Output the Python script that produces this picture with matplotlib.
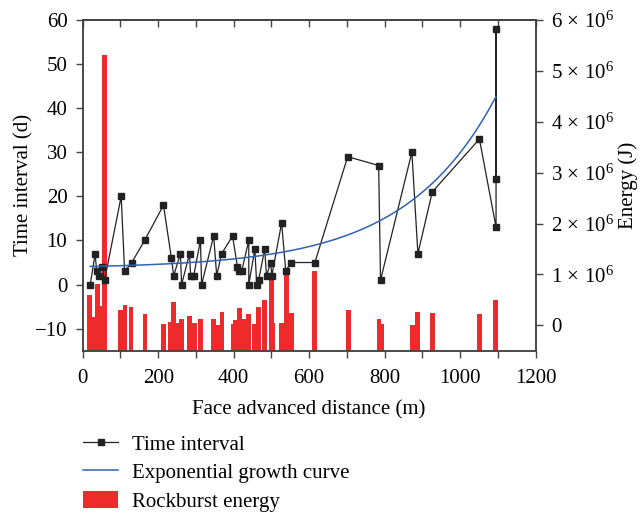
import matplotlib
matplotlib.use("Agg")
from matplotlib import pyplot as plt
from matplotlib.lines import Line2D
from matplotlib.patches import Patch
from matplotlib.ticker import MultipleLocator, FuncFormatter
import numpy as np

plt.rcParams['font.family'] = ['Liberation Serif', 'DejaVu Serif']
plt.rcParams['mathtext.fontset'] = 'custom'
plt.rcParams['mathtext.rm'] = 'Liberation Serif'
plt.rcParams['mathtext.it'] = 'Liberation Serif:italic'

# time interval between rockbursts (d) vs face advance (m)
dist = [20, 33, 37, 42, 51, 58, 102, 111, 130, 164, 214, 235, 241, 259, 262,
        283, 286, 294, 312, 315, 347, 355, 368, 397, 410, 414, 421, 440, 440,
        456, 461, 466, 482, 487, 498, 501, 527, 538, 551, 615, 702, 784, 789,
        872, 888, 926, 1051, 1095, 1095, 1095]
interval = [0, 7, 3, 2, 4, 1, 20, 3, 5, 10, 18, 6, 2, 7, 0,
            7, 2, 2, 10, 0, 11, 2, 7, 11, 4, 3, 3, 10, 0,
            8, 0, 1, 8, 2, 5, 2, 14, 3, 5, 5, 29, 27, 1,
            30, 7, 21, 33, 13, 58, 24]

# rockburst energy (x 1e6 J)
burst_x = [19, 30, 39, 49, 58, 101, 112, 128, 165, 213, 232, 241, 250, 261,
           283, 295, 313, 347, 357, 369, 399, 406, 415, 426, 440, 455, 466,
           481, 499, 503, 526, 539, 552, 615, 705, 785, 793, 873, 888, 926,
           1050, 1094]
burst_e = [0.59, 0.16, 0.82, 0.38, 5.32, 0.31, 0.39, 0.36, 0.22, 0.02, 0.065,
           0.46, 0.04, 0.12, 0.18, 0.05, 0.12, 0.12, 0.01, 0.27, 0.02, 0.10,
           0.33, 0.12, 0.22, 0.02, 0.36, 0.49, 0.94, 0.04, 0.05, 1.12, 0.24,
           1.07, 0.31, 0.12, 0.02, 0.00, 0.26, 0.24, 0.22, 0.49]

# exponential growth fit  t = y0 + a*exp(x/c)
fit_y0, fit_a, fit_c = 3.66, 0.407, 240.0
fit_range = (20, 1095)

red = '#ee2a2a'
blue = '#2f62b5'
dark = '#222222'
spine = '#444444'
fs = 15

fig = plt.figure(figsize=(6.43, 5.15), dpi=100)
ax = fig.add_axes([0.1286, 0.319, 0.7045, 0.6422])
ax2 = ax.twinx()

e_floor = -0.5e6
e_vals = np.array(burst_e) * 1e6
ax2.bar(burst_x, e_vals - e_floor, bottom=e_floor, width=13, color=red, linewidth=0)
ax2.set_ylim(e_floor, 6e6)
ax2.yaxis.set_major_locator(MultipleLocator(1e6))

def efmt(v, pos):
    n = int(round(v / 1e6))
    if n == 0:
        return '0'
    return r'$%d\,\times\,10^{6}$' % n
ax2.yaxis.set_major_formatter(FuncFormatter(efmt))
ax2.set_ylabel('Energy (J)', fontsize=fs, labelpad=3)

ax.set_zorder(ax2.get_zorder() + 1)
ax.patch.set_visible(False)

ax.plot(dist, interval, '-s', color=dark, lw=0.9, markersize=5)
xs = np.linspace(fit_range[0], fit_range[1], 300)
ax.plot(xs, fit_y0 + fit_a * np.exp(xs / fit_c), color=blue, lw=1.1)

ax.set_xlim(0, 1200)
ax.set_ylim(-15, 60)
ax.xaxis.set_major_locator(MultipleLocator(200))
ax.xaxis.set_minor_locator(MultipleLocator(100))
ax.yaxis.set_major_locator(MultipleLocator(10))

def tfmt(v, pos):
    return ('%d' % v).replace('-', '\u2212')
ax.yaxis.set_major_formatter(FuncFormatter(tfmt))

ax.tick_params(axis='both', which='both', direction='out', length=5, width=1,
               color=spine, labelsize=fs)
ax.tick_params(axis='x', which='both', pad=8)
ax.tick_params(axis='y', pad=6)
ax2.tick_params(axis='y', direction='out', length=5, width=1, color=spine,
                labelsize=fs, pad=6)

top = ax.secondary_xaxis('top')
top.xaxis.set_major_locator(MultipleLocator(100))
top.tick_params(direction='in', length=5, width=1, color=spine, labeltop=False)

for a in (ax, ax2, top):
    for s in a.spines.values():
        s.set_color(spine)
        s.set_linewidth(1.1)

ax.set_xlabel('Face advanced distance (m)', fontsize=fs, labelpad=9)
ax.set_ylabel('Time interval (d)', fontsize=fs, labelpad=1)

handles = [Line2D([], [], color=dark, lw=0.9, marker='s', markersize=5),
           Line2D([], [], color=blue, lw=1.1),
           Patch(color=red, linewidth=0)]
labels = ['Time interval', 'Exponential growth curve', 'Rockburst energy']
fig.legend(handles, labels, loc='upper left', bbox_to_anchor=(0.129, 0.157),
           frameon=False, fontsize=fs, handlelength=1.7, handleheight=0.85,
           handletextpad=0.65, labelspacing=0.38, borderpad=0, borderaxespad=0)

fig.savefig('out.png', dpi=100)
